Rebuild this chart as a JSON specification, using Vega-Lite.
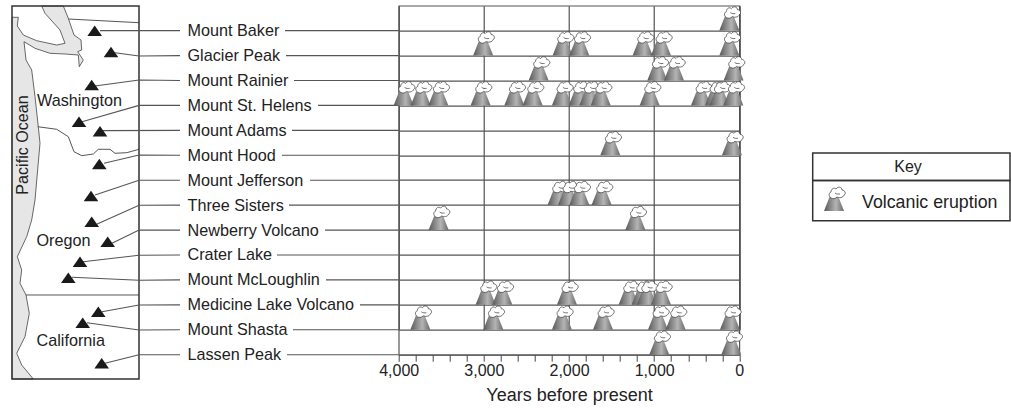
{"$schema":"https://vega.github.io/schema/vega-lite/v6.json","width":340.6,"height":349,"autosize":{"type":"none"},"padding":{"left":398.7,"top":5.7,"right":271.7,"bottom":53.3},"background":"white","config":{"view":{"stroke":"#555","strokeWidth":1.2},"font":"Liberation Sans"},"layer":[{"encoding":{"x":{"field":"mx","type":"quantitative","axis":null,"scale":{"domain":[398.7,739.3],"range":[0,340.6],"nice":false,"zero":false}},"y":{"field":"my","type":"quantitative","axis":null,"scale":{"domain":[5.7,354.7],"range":[0,349],"nice":false,"zero":false}}},"layer":[{"data":{"values":[{"o":1,"mx":12,"my":17.3},{"o":2,"mx":18.3,"my":17.3},{"o":3,"mx":17.3,"my":26},{"o":4,"mx":23.3,"my":35},{"o":5,"mx":36.7,"my":40.7},{"o":6,"mx":56.7,"my":45},{"o":7,"mx":65,"my":43.3},{"o":8,"mx":60,"my":30},{"o":9,"mx":45,"my":13.3},{"o":10,"mx":41.7,"my":6},{"o":11,"mx":63.3,"my":6},{"o":12,"mx":68.3,"my":18.3},{"o":13,"mx":74,"my":35},{"o":14,"mx":81,"my":40},{"o":15,"mx":81.7,"my":50},{"o":16,"mx":77.7,"my":51.7},{"o":17,"mx":83.3,"my":60},{"o":18,"mx":79.3,"my":66.7},{"o":19,"mx":78.3,"my":55},{"o":20,"mx":65,"my":54},{"o":21,"mx":50,"my":53.3},{"o":22,"mx":35,"my":48.3},{"o":23,"mx":24,"my":41.7},{"o":24,"mx":26,"my":60},{"o":25,"mx":31.7,"my":70},{"o":26,"mx":35,"my":96.7},{"o":27,"mx":38.3,"my":126.7},{"o":28,"mx":40,"my":143.3},{"o":29,"mx":35,"my":200},{"o":30,"mx":31.7,"my":220},{"o":31,"mx":26.7,"my":236.7},{"o":32,"mx":17.3,"my":256.7},{"o":33,"mx":21.7,"my":270},{"o":34,"mx":20,"my":283.3},{"o":35,"mx":26,"my":295},{"o":36,"mx":29.3,"my":313.3},{"o":37,"mx":25,"my":336.7},{"o":38,"mx":16.7,"my":353.3},{"o":39,"mx":21.7,"my":365},{"o":40,"mx":33.3,"my":379},{"o":41,"mx":12,"my":379},{"o":42,"mx":12,"my":17.3}]},"mark":{"type":"line","fill":"#e6e6e6","stroke":"#444","strokeWidth":0.8},"encoding":{"order":{"field":"o","type":"quantitative"}}},{"data":{"values":[{"k":"wa","o":1,"mx":37.7,"my":126.7},{"k":"wa","o":2,"mx":56.7,"my":129.3},{"k":"wa","o":3,"mx":68.3,"my":136.7},{"k":"wa","o":4,"mx":74,"my":151.7},{"k":"wa","o":5,"mx":81.7,"my":155.7},{"k":"wa","o":6,"mx":93.3,"my":154},{"k":"wa","o":7,"mx":98.3,"my":149.3},{"k":"wa","o":8,"mx":110,"my":149.3},{"k":"wa","o":9,"mx":115,"my":153.3},{"k":"wa","o":10,"mx":126.7,"my":152.7},{"k":"wa","o":11,"mx":139,"my":149.3},{"k":"ca","o":1,"mx":26,"my":295},{"k":"ca","o":2,"mx":139,"my":295},{"k":"bc","o":1,"mx":68.3,"my":19},{"k":"bc","o":2,"mx":139,"my":22.7}]},"mark":{"type":"line","stroke":"#555","strokeWidth":1},"encoding":{"detail":{"field":"k"},"order":{"field":"o","type":"quantitative"}}},{"data":{"values":[{"mx":12,"mx2":139,"my":6,"my2":379,"part":"map"},{"mx":812.7,"mx2":1010,"my":153,"my2":180.5,"part":"key title"},{"mx":812.7,"mx2":1010,"my":180.5,"my2":220.7,"part":"key entry"}]},"mark":{"type":"rect","fill":null,"stroke":"#333","strokeWidth":1.5},"encoding":{"x2":{"field":"mx2"},"y2":{"field":"my2"}}},{"data":{"values":[{"name":"Mount Baker","s":"l","o":1,"mx":100,"my":30.6},{"name":"Mount Baker","s":"l","o":2,"mx":180,"my":30.6},{"name":"Glacier Peak","s":"l","o":1,"mx":115,"my":52.7},{"name":"Glacier Peak","s":"l","o":2,"mx":139,"my":56},{"name":"Glacier Peak","s":"l","o":3,"mx":180,"my":55.6},{"name":"Mount Rainier","s":"l","o":1,"mx":95,"my":86},{"name":"Mount Rainier","s":"l","o":2,"mx":139,"my":80},{"name":"Mount Rainier","s":"l","o":3,"mx":180,"my":80.5},{"name":"Mount St. Helens","s":"l","o":1,"mx":82,"my":121.7},{"name":"Mount St. Helens","s":"l","o":2,"mx":139,"my":105.4},{"name":"Mount St. Helens","s":"l","o":3,"mx":180,"my":105.4},{"name":"Mount Adams","s":"l","o":1,"mx":103,"my":130.6},{"name":"Mount Adams","s":"l","o":2,"mx":180,"my":130.4},{"name":"Mount Hood","s":"l","o":1,"mx":104,"my":163.3},{"name":"Mount Hood","s":"l","o":2,"mx":139,"my":155},{"name":"Mount Hood","s":"l","o":3,"mx":180,"my":155.3},{"name":"Mount Jefferson","s":"l","o":1,"mx":95,"my":195},{"name":"Mount Jefferson","s":"l","o":2,"mx":139,"my":180.3},{"name":"Mount Jefferson","s":"l","o":3,"mx":180,"my":180.2},{"name":"Three Sisters","s":"l","o":1,"mx":95,"my":225},{"name":"Three Sisters","s":"l","o":2,"mx":139,"my":205.3},{"name":"Three Sisters","s":"l","o":3,"mx":180,"my":205.1},{"name":"Newberry Volcano","s":"l","o":1,"mx":112,"my":243.3},{"name":"Newberry Volcano","s":"l","o":2,"mx":139,"my":230},{"name":"Newberry Volcano","s":"l","o":3,"mx":180,"my":230.1},{"name":"Crater Lake","s":"l","o":1,"mx":83,"my":261.7},{"name":"Crater Lake","s":"l","o":2,"mx":139,"my":255.3},{"name":"Crater Lake","s":"l","o":3,"mx":180,"my":255},{"name":"Mount McLoughlin","s":"l","o":1,"mx":72,"my":277.3},{"name":"Mount McLoughlin","s":"l","o":2,"mx":139,"my":280.3},{"name":"Mount McLoughlin","s":"l","o":3,"mx":180,"my":279.9},{"name":"Medicine Lake Volcano","s":"l","o":1,"mx":102,"my":311.7},{"name":"Medicine Lake Volcano","s":"l","o":2,"mx":139,"my":305},{"name":"Medicine Lake Volcano","s":"l","o":3,"mx":180,"my":304.9},{"name":"Mount Shasta","s":"l","o":1,"mx":87,"my":322.7},{"name":"Mount Shasta","s":"l","o":2,"mx":139,"my":330},{"name":"Mount Shasta","s":"l","o":3,"mx":180,"my":329.8},{"name":"Lassen Peak","s":"l","o":1,"mx":105,"my":363.3},{"name":"Lassen Peak","s":"l","o":2,"mx":139,"my":354.7},{"name":"Lassen Peak","s":"l","o":3,"mx":180,"my":354.7},{"name":"Mount Baker","s":"r","o":1,"mx":285,"my":30.6},{"name":"Mount Baker","s":"r","o":2,"mx":398.7,"my":30.6},{"name":"Glacier Peak","s":"r","o":1,"mx":286,"my":55.6},{"name":"Glacier Peak","s":"r","o":2,"mx":398.7,"my":55.6},{"name":"Mount Rainier","s":"r","o":1,"mx":294,"my":80.5},{"name":"Mount Rainier","s":"r","o":2,"mx":398.7,"my":80.5},{"name":"Mount St. Helens","s":"r","o":1,"mx":318,"my":105.4},{"name":"Mount St. Helens","s":"r","o":2,"mx":398.7,"my":105.4},{"name":"Mount Adams","s":"r","o":1,"mx":292,"my":130.4},{"name":"Mount Adams","s":"r","o":2,"mx":398.7,"my":130.4},{"name":"Mount Hood","s":"r","o":1,"mx":282,"my":155.3},{"name":"Mount Hood","s":"r","o":2,"mx":398.7,"my":155.3},{"name":"Mount Jefferson","s":"r","o":1,"mx":310,"my":180.2},{"name":"Mount Jefferson","s":"r","o":2,"mx":398.7,"my":180.2},{"name":"Three Sisters","s":"r","o":1,"mx":289,"my":205.1},{"name":"Three Sisters","s":"r","o":2,"mx":398.7,"my":205.1},{"name":"Newberry Volcano","s":"r","o":1,"mx":325,"my":230.1},{"name":"Newberry Volcano","s":"r","o":2,"mx":398.7,"my":230.1},{"name":"Crater Lake","s":"r","o":1,"mx":277,"my":255},{"name":"Crater Lake","s":"r","o":2,"mx":398.7,"my":255},{"name":"Mount McLoughlin","s":"r","o":1,"mx":326,"my":279.9},{"name":"Mount McLoughlin","s":"r","o":2,"mx":398.7,"my":279.9},{"name":"Medicine Lake Volcano","s":"r","o":1,"mx":360,"my":304.9},{"name":"Medicine Lake Volcano","s":"r","o":2,"mx":398.7,"my":304.9},{"name":"Mount Shasta","s":"r","o":1,"mx":293,"my":329.8},{"name":"Mount Shasta","s":"r","o":2,"mx":398.7,"my":329.8},{"name":"Lassen Peak","s":"r","o":1,"mx":287,"my":354.7},{"name":"Lassen Peak","s":"r","o":2,"mx":398.7,"my":354.7}]},"mark":{"type":"line","stroke":"#555","strokeWidth":1.1},"encoding":{"detail":[{"field":"name"},{"field":"s"}],"order":{"field":"o","type":"quantitative"}}},{"data":{"values":[{"name":"Mount Baker","mx":94.7,"my":30.7},{"name":"Glacier Peak","mx":111,"my":52},{"name":"Mount Rainier","mx":91.7,"my":85},{"name":"Mount St. Helens","mx":79,"my":121.7},{"name":"Mount Adams","mx":100,"my":131.3},{"name":"Mount Hood","mx":99.3,"my":164},{"name":"Mount Jefferson","mx":91,"my":196},{"name":"Three Sisters","mx":91.7,"my":221.7},{"name":"Newberry Volcano","mx":107.7,"my":241.7},{"name":"Crater Lake","mx":80,"my":261.7},{"name":"Mount McLoughlin","mx":68.3,"my":277.7},{"name":"Medicine Lake Volcano","mx":98.3,"my":311.7},{"name":"Mount Shasta","mx":82.7,"my":322.7},{"name":"Lassen Peak","mx":101.7,"my":363.3}]},"mark":{"type":"point","filled":true,"fill":"#1a1a1a","stroke":null,"opacity":1,"size":4,"shape":"M-7.3,5.3L7.3,5.3L0,-5.3Z"}},{"data":{"values":[{"label":"Washington","mx":37,"my":101},{"label":"Oregon","mx":36.5,"my":241},{"label":"California","mx":36.5,"my":341}]},"mark":{"type":"text","align":"left","baseline":"middle","font":"Liberation Sans","fontSize":16.2,"fill":"#222"},"encoding":{"text":{"field":"label"}}},{"data":{"values":[{"label":"Volcanic eruption","mx":862,"my":202.5}]},"mark":{"type":"text","align":"left","baseline":"middle","font":"Liberation Sans","fontSize":17.8,"fill":"#222"},"encoding":{"text":{"field":"label"}}},{"data":{"values":[{"label":"Key","mx":908,"my":166.5}]},"mark":{"type":"text","align":"center","baseline":"middle","font":"Liberation Sans","fontSize":16,"fill":"#222"},"encoding":{"text":{"field":"label"}}},{"data":{"values":[{"label":"Pacific Ocean","mx":23,"my":145}]},"mark":{"type":"text","align":"center","baseline":"middle","angle":270,"font":"Liberation Sans","fontSize":16.1,"fill":"#222"},"encoding":{"text":{"field":"label"}}},{"data":{"values":[{"mx":834,"my":211}]},"mark":{"type":"point","filled":true,"size":4,"opacity":1,"strokeWidth":0,"shape":"M-10,0L-4.5,-14L4.5,-14L10,0Z","fill":{"gradient":"linear","x1":0,"x2":1,"y1":0,"y2":0,"stops":[{"offset":0,"color":"#585858"},{"offset":0.6,"color":"#b4b4b4"},{"offset":1,"color":"#686868"}]}}},{"data":{"values":[{"mx":834,"my":211}]},"mark":{"type":"point","filled":true,"size":4,"opacity":1,"fill":"white","stroke":"#333","strokeWidth":0.7,"shape":"M-3,-13C-5.5,-15 -5.5,-18 -3,-19C-3,-22 0,-24 2,-22C4,-25 8,-24 8,-21C11,-21 12.5,-17 10,-16C9,-13 5,-13 3,-14C1,-12 -1,-12 -3,-13ZM1,-18C3,-16.5 4,-17 6,-17"}}]},{"data":{"values":[{"name":"Mount Baker","years":117},{"name":"Glacier Peak","years":3008},{"name":"Glacier Peak","years":2075},{"name":"Glacier Peak","years":1879},{"name":"Glacier Peak","years":1135},{"name":"Glacier Peak","years":920},{"name":"Glacier Peak","years":117},{"name":"Mount Rainier","years":2357},{"name":"Mount Rainier","years":963},{"name":"Mount Rainier","years":767},{"name":"Mount Rainier","years":67},{"name":"Mount St. Helens","years":3942},{"name":"Mount St. Helens","years":3742},{"name":"Mount St. Helens","years":3535},{"name":"Mount St. Helens","years":3038},{"name":"Mount St. Helens","years":2642},{"name":"Mount St. Helens","years":2427},{"name":"Mount St. Helens","years":2083},{"name":"Mount St. Helens","years":1887},{"name":"Mount St. Helens","years":1762},{"name":"Mount St. Helens","years":1628},{"name":"Mount St. Helens","years":1053},{"name":"Mount St. Helens","years":450},{"name":"Mount St. Helens","years":286},{"name":"Mount St. Helens","years":235},{"name":"Mount St. Helens","years":70},{"name":"Mount Hood","years":1515},{"name":"Mount Hood","years":86},{"name":"Three Sisters","years":2134},{"name":"Three Sisters","years":2012},{"name":"Three Sisters","years":1879},{"name":"Three Sisters","years":1617},{"name":"Newberry Volcano","years":3531},{"name":"Newberry Volcano","years":1221},{"name":"Medicine Lake Volcano","years":2979},{"name":"Medicine Lake Volcano","years":2783},{"name":"Medicine Lake Volcano","years":2024},{"name":"Medicine Lake Volcano","years":1300},{"name":"Medicine Lake Volcano","years":1147},{"name":"Medicine Lake Volcano","years":1088},{"name":"Medicine Lake Volcano","years":920},{"name":"Mount Shasta","years":3746},{"name":"Mount Shasta","years":2889},{"name":"Mount Shasta","years":2083},{"name":"Mount Shasta","years":1601},{"name":"Mount Shasta","years":955},{"name":"Mount Shasta","years":748},{"name":"Mount Shasta","years":110},{"name":"Lassen Peak","years":940},{"name":"Lassen Peak","years":94}]},"encoding":{"x":{"field":"years","type":"quantitative","title":"Years before present","scale":{"domain":[4000,0],"nice":false,"zero":false},"axis":{"values":[0,200,400,600,800,1000,1200,1400,1600,1800,2000,2200,2400,2600,2800,3000,3200,3400,3600,3800,4000],"labelExpr":"datum.value % 1000 === 0 ? format(datum.value, ',') : ''","domain":false,"grid":true,"gridColor":"#444","gridWidth":1.1,"gridOpacity":{"expr":"datum.value % 1000 === 0 ? 1 : 0"},"tickColor":"#444","tickSize":6.5,"tickWidth":1,"labelFont":"Liberation Sans","labelFontSize":16,"labelColor":"#222","labelPadding":1,"labelFlush":false,"labelOverlap":false,"titleFont":"Liberation Sans","titleFontSize":18,"titleFontWeight":"normal","titleColor":"#222","titlePadding":8}},"y":{"field":"name","type":"nominal","title":null,"scale":{"type":"point","padding":0,"domain":["Mount Baker","Glacier Peak","Mount Rainier","Mount St. Helens","Mount Adams","Mount Hood","Mount Jefferson","Three Sisters","Newberry Volcano","Crater Lake","Mount McLoughlin","Medicine Lake Volcano","Mount Shasta","Lassen Peak"],"range":[24.9,349]},"axis":{"domain":false,"ticks":false,"grid":true,"gridColor":"#555","gridWidth":1.2,"labelAlign":"left","labelPadding":211.7,"labelLimit":300,"labelBound":false,"labelFont":"Liberation Sans","labelFontSize":16.2,"labelColor":"#222"}}},"layer":[{"mark":{"type":"point","filled":true,"size":4,"opacity":1,"strokeWidth":0,"shape":"M-10,0L-4.5,-14L4.5,-14L10,0Z","fill":{"gradient":"linear","x1":0,"x2":1,"y1":0,"y2":0,"stops":[{"offset":0,"color":"#585858"},{"offset":0.6,"color":"#b4b4b4"},{"offset":1,"color":"#686868"}]}}},{"mark":{"type":"point","filled":true,"size":4,"opacity":1,"fill":"white","stroke":"#333","strokeWidth":0.7,"shape":"M-3,-13C-5.5,-15 -5.5,-18 -3,-19C-3,-22 0,-24 2,-22C4,-25 8,-24 8,-21C11,-21 12.5,-17 10,-16C9,-13 5,-13 3,-14C1,-12 -1,-12 -3,-13ZM1,-18C3,-16.5 4,-17 6,-17"}}]}],"resolve":{"scale":{"x":"independent","y":"independent"}}}
